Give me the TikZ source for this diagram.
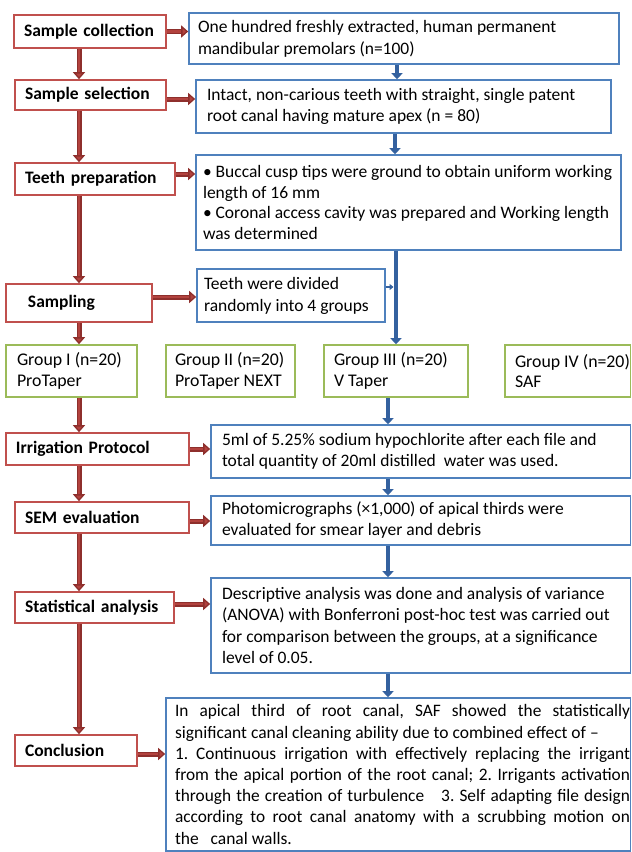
\documentclass[tikz,border=0pt]{standalone}
\usepackage{fontspec}
\setmainfont{Carlito}
\usetikzlibrary{arrows.meta}
\definecolor{boxred}{HTML}{C0504D}
\definecolor{arrred}{HTML}{8E2F2C}
\definecolor{arrmid}{HTML}{B2423E}
\definecolor{boxblue}{HTML}{4F81BD}
\definecolor{arrblue}{HTML}{34619F}
\definecolor{boxgreen}{HTML}{9BBB59}
\frenchspacing
\hyphenpenalty=10000
\exhyphenpenalty=10000
\newcommand{\tl}[1]{\mbox{\spaceskip=0pt\xspaceskip=0pt\relax #1}}
\newcommand{\jl}[1]{\hspace*{8pt}\resizebox{455pt}{\height}{\makebox[460pt][s]{\spaceskip=0pt\xspaceskip=0pt\relax #1}}}
\newcommand{\nl}[1]{\hspace*{8pt}\tl{#1}}
\begin{document}
\begin{tikzpicture}[x=1pt,y=-1pt,
  base/.style={fill=white, line width=1.6pt, inner ysep=0pt, align=left,
    font=\fontsize{17.5}{21}\selectfont},
  lab/.style={base, draw=boxred, font=\fontsize{17.5}{21}\selectfont\bfseries, inner xsep=10pt},
  bbox/.style={base, draw=boxblue},
  gbox/.style={base, draw=boxgreen, font=\fontsize{17.8}{20.5}\selectfont},
  rarr/.style={draw=arrred, double=arrmid, double distance=2.4pt, line width=1.3pt,
    -{Triangle[width=12pt,length=7pt,fill=arrmid]}},
  barr/.style={draw=arrblue, line width=4.5pt, -{Triangle[width=11pt,length=6pt]}},
  sarr/.style={draw=arrblue, line width=2pt, -{Triangle[width=6pt,length=4pt]}}
]
\fill[white] (0,0) rectangle (632,852);
\useasboundingbox (0,0) rectangle (632,852);

% left column labels
\node[lab, minimum height=33pt, text width=132pt] (sc) at (90,31.5) {Sample collection};
\node[lab, minimum height=30pt, text width=131pt] (ss) at (90.5,95) {Sample selection};
\node[lab, minimum height=32pt, text width=140pt] (tp) at (95,179) {Teeth preparation};
\node[lab, minimum height=38pt, text width=126pt] (samp) at (79,303) {\hspace*{12pt}Sampling};
\node[lab, minimum height=32pt, text width=163pt] (irr) at (97.5,449) {Irrigation Protocol};
\node[lab, minimum height=31pt, text width=154pt] (sem) at (102,517.5) {SEM evaluation};
\node[lab, minimum height=31pt, text width=139pt] (stat) at (94.5,607.5) {Statistical analysis};
\node[lab, minimum height=31pt, text width=102pt] (concl) at (76,750.5) {Conclusion};

% blue boxes
\node[bbox, inner xsep=9pt, minimum height=51pt, text width=412pt, font=\fontsize{17.5}{22}\selectfont] (b1) at (404,38.5)
  {\tl{One hundred freshly extracted, human permanent}\\\tl{mandibular premolars (n=100)}};
\node[bbox, inner xsep=11pt, minimum height=53pt, text width=393pt] (b2) at (403.5,106.5)
  {\tl{Intact, non-carious teeth with straight, single patent}\\\tl{root canal having mature apex (n = 80)}};
\node[bbox, inner xsep=7pt, minimum height=95pt, text width=411pt, font=\fontsize{17.5}{20.4}\selectfont] (b3) at (408.5,202.5)
  {\tl{• Buccal cusp tips were ground to obtain uniform working}\\\tl{length of 16 mm}\\\tl{• Coronal access cavity was prepared and Working length}\\\tl{was determined}};
\node[bbox, inner xsep=7pt, minimum height=53pt, text width=174pt, font=\fontsize{17.5}{22}\selectfont] (b4) at (291,295.5)
  {\tl{Teeth were divided}\\\tl{randomly into 4 groups}};
\node[bbox, inner xsep=11pt, minimum height=53pt, text width=397.5pt] (bi) at (420.75,451.5)
  {\tl{5ml of 5.25\% sodium hypochlorite after each file and}\\\tl{total quantity of 20ml distilled\ \ water was used.}};
\node[bbox, inner xsep=11pt, minimum height=49pt, text width=397.5pt] (bs) at (420.75,520.5)
  {\tl{Photomicrographs (×1,000) of apical thirds were}\\\tl{evaluated for smear layer and debris}};
\node[bbox, inner xsep=11pt, minimum height=95pt, text width=397.5pt, font=\fontsize{17.5}{21.3}\selectfont] (bt) at (420.75,625.5)
  {\tl{Descriptive analysis was done and analysis of variance}\\\tl{(ANOVA) with Bonferroni post-hoc test was carried out}\\\tl{for comparison between the groups, at a significance}\\\tl{level of 0.05.}};
\node[bbox, inner xsep=1pt, minimum height=153pt, text width=462.5pt, font=\fontsize{17.5}{21.2}\selectfont] (bc) at (398.25,774.5)
  {\jl{In apical third of root canal, SAF showed the statistically}\\
   \nl{significant canal cleaning ability due to combined effect of –}\\
   \jl{1. Continuous irrigation with effectively replacing the irrigant}\\
   \jl{from the apical portion of the root canal; 2. Irrigants activation}\\
   \jl{through the creation of turbulence\hspace{12pt} 3. Self adapting file design}\\
   \jl{according to root canal anatomy with a scrubbing motion on}\\
   \nl{the\ \ \ canal walls.}};

% groups
\node[gbox, inner xsep=11pt, minimum height=52pt, text width=109pt] (g1) at (71.5,371) {\tl{Group I (n=20)}\\\tl{ProTaper}};
\node[gbox, inner xsep=9pt, minimum height=52pt, text width=111pt] (g2) at (230.5,371) {\tl{Group II (n=20)}\\\tl{ProTaper NEXT}};
\node[gbox, inner xsep=10pt, minimum height=52pt, text width=124pt] (g3) at (396,371) {\tl{Group III (n=20)}\\\tl{V Taper}};
\node[gbox, inner xsep=10pt, minimum height=52pt, text width=105.5pt] (g4) at (567.75,371) {\tl{Group IV (n=20)}\\\tl{SAF}};

% column coordinates
\coordinate (rc) at (79,0);
\coordinate (bc1) at (397,0);
\coordinate (bc2) at (395,0);
\coordinate (bc3) at (396,0);
\coordinate (bc4) at (388,0);
\coordinate (j) at (393.5,287);

% red vertical arrows
\draw[rarr] (sc.south -| rc) -- (ss.north -| rc);
\draw[rarr] (ss.south -| rc) -- (tp.north -| rc);
\draw[rarr] (tp.south -| rc) -- (samp.north -| rc);
\draw[rarr] (samp.south -| rc) -- (g1.north -| rc);
\draw[rarr] (g1.south -| rc) -- (irr.north -| rc);
\draw[rarr] (irr.south -| rc) -- (sem.north -| rc);
\draw[rarr] (sem.south -| rc) -- (stat.north -| rc);
\draw[rarr] (stat.south -| rc) -- (concl.north -| rc);

% red horizontal arrows
\draw[rarr] (sc.east) -- (sc.east -| b1.west);
\draw[rarr] ([yshift=-4pt]ss.east) -- ([yshift=-4pt]ss.east -| b2.west);
\draw[rarr] ([yshift=5pt]tp.east) -- ([yshift=5pt]tp.east -| b3.west);
\draw[rarr] ([yshift=6pt]samp.east) -- ([yshift=6pt]samp.east -| b4.west);
\draw[rarr] (irr.east) -- (irr.east -| bi.west);
\draw[rarr] ([yshift=-3.5pt]sem.east) -- ([yshift=-3.5pt]sem.east -| bs.west);
\draw[rarr] ([yshift=3.5pt]stat.east) -- ([yshift=3.5pt]stat.east -| bt.west);
\draw[rarr] ([yshift=-3.5pt]concl.east) -- ([yshift=-3.5pt]concl.east -| bc.west);

% blue arrows
\draw[barr] (b1.south -| bc1) -- (b2.north -| bc1);
\draw[barr] (b2.south -| bc2) -- (b3.north -| bc2);
\draw[barr] (b3.south -| bc3) -- (g3.north -| bc3);
\draw[sarr] (b4.east |- j) -- (j);
\draw[barr] (g3.south -| bc4) -- (bi.north -| bc4);
\draw[barr] (bi.south -| bc4) -- (bs.north -| bc4);
\draw[barr] (bs.south -| bc4) -- (bt.north -| bc4);
\draw[barr] (bt.south -| bc4) -- (bc.north -| bc4);
\end{tikzpicture}
\end{document}
